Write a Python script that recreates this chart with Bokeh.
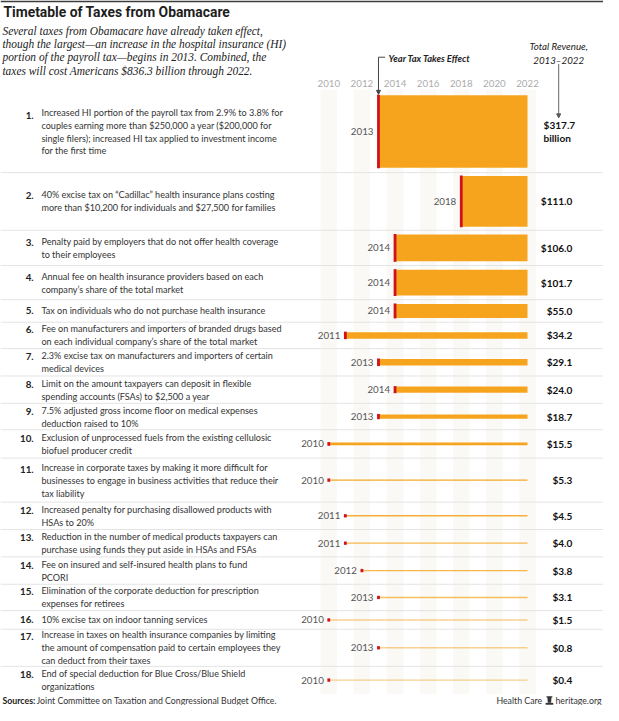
from bokeh.plotting import figure
from bokeh.models import Range1d, Arrow, NormalHead, ColumnDataSource
from bokeh.core.properties import value
from bokeh.embed import file_html
from bokeh.resources import INLINE

# ---------------- data ----------------
numbers = [f"{i}." for i in range(1, 19)]
descriptions = [
    "Increased HI portion of the payroll tax from 2.9% to 3.8% for\ncouples earning more than $250,000 a year ($200,000 for\nsingle filers); increased HI tax applied to investment income\nfor the first time",
    "40% excise tax on \u201cCadillac\u201d health insurance plans costing\nmore than $10,200 for individuals and $27,500 for families",
    "Penalty paid by employers that do not offer health coverage\nto their employees",
    "Annual fee on health insurance providers based on each\ncompany\u2019s share of the total market",
    "Tax on individuals who do not purchase health insurance",
    "Fee on manufacturers and importers of branded drugs based\non each individual company\u2019s share of the total market",
    "2.3% excise tax on manufacturers and importers of certain\nmedical devices",
    "Limit on the amount taxpayers can deposit in flexible\nspending accounts (FSAs) to $2,500 a year",
    "7.5% adjusted gross income floor on medical expenses\ndeduction raised to 10%",
    "Exclusion of unprocessed fuels from the existing cellulosic\nbiofuel producer credit",
    "Increase in corporate taxes by making it more difficult for\nbusinesses to engage in business activities that reduce their\ntax liability",
    "Increased penalty for purchasing disallowed products with\nHSAs to 20%",
    "Reduction in the number of medical products taxpayers can\npurchase using funds they put aside in HSAs and FSAs",
    "Fee on insured and self-insured health plans to fund\nPCORI",
    "Elimination of the corporate deduction for prescription\nexpenses for retirees",
    "10% excise tax on indoor tanning services",
    "Increase in taxes on health insurance companies by limiting\nthe amount of compensation paid to certain employees they\ncan deduct from their taxes",
    "End of special deduction for Blue Cross/Blue Shield\norganizations",
]
start_years = [2013, 2018, 2014, 2014, 2014, 2011, 2013, 2014, 2013,
               2010, 2010, 2011, 2011, 2012, 2013, 2010, 2013, 2010]
revenue = [317.7, 111.0, 106.0, 101.7, 55.0, 34.2, 29.1, 24.0, 18.7,
           15.5, 5.3, 4.5, 4.0, 3.8, 3.1, 1.5, 0.8, 0.4]
end_year = 2022
axis_years = [2010, 2012, 2014, 2016, 2018, 2020, 2022]

title = "Timetable of Taxes from Obamacare"
subtitle = ("Several taxes from Obamacare have already taken effect,\n"
            "though the largest\u2014an increase in the hospital insurance (HI)\n"
            "portion of the payroll tax\u2014begins in 2013. Combined, the\n"
            "taxes will cost Americans $836.3 billion through 2022.")

# ---------------- layout (reference pixel space) ----------------
W, H = 603, 705
REF_W, REF_H = 619, 721
FS = 0.976
def fs(px):
    return f"{px*FS:.2f}px"

row_edges = [92, 176, 235, 271, 306, 329, 356, 384, 412, 439, 468, 513,
             541, 569, 597, 624, 643, 681, 709]
LINE = 11.2
K = 2.34          # px of thickness per $bn per year
YEAR_X0 = 337     # px position of 2010
PX_YEAR = 17.0

BODY = "Lato"
ORANGE = "#F6A41E"
RED = "#D0121B"

centers = [(row_edges[i] + row_edges[i + 1]) / 2 for i in range(18)]
nlines = [d.count("\n") + 1 for d in descriptions]
num_y = [c - (n - 1) * LINE / 2 for c, n in zip(centers, nlines)]
raw_th = [v / (end_year + 1 - s) * K for v, s in zip(revenue, start_years)]
thick = [max(t, 1.4) for t in raw_th]
bar_alpha = [min(1.0, max(0.5, t)) for t in raw_th]
mark_h = [max(t + 1.0, 3.4) for t in thick]

src = ColumnDataSource(dict(
    num=numbers, desc=descriptions, c=centers, ny=num_y,
    start=start_years, end=[end_year] * 18, th=thick, mh=mark_h, al=bar_alpha,
    ylab=[str(s) for s in start_years],
))

p = figure(width=W, height=H, x_range=Range1d(0, REF_W), y_range=Range1d(REF_H, 0),
           output_backend="svg", toolbar_location=None, min_border=0,
           x_axis_location=None, y_axis_location=None, outline_line_color=None)
p.grid.visible = False
p.background_fill_color = "white"
p.border_fill_color = "white"
p.extra_x_ranges = {"yr": Range1d(2010 - YEAR_X0 / PX_YEAR, 2010 + (REF_W - YEAR_X0) / PX_YEAR)}

# top border
p.segment(x0=0, y0=0.8, x1=REF_W, y1=0.8, line_color="#3c3c3c", line_width=1.8)

# background year stripes
p.quad(left=[y - 0.5 for y in axis_years], right=[y + 0.5 for y in axis_years],
       top=row_edges[0] - 1, bottom=row_edges[-1], x_range_name="yr",
       fill_color="#faf9f6", line_color=None)

# row separators
inner = row_edges[1:-1]
p.segment(x0=[0] * len(inner), y0=inner, x1=[REF_W] * len(inner), y1=inner,
          line_color="#e4e4e4", line_width=1)

# header year labels
p.text(x=axis_years, y=[85] * len(axis_years), text=[str(y) for y in axis_years],
       x_range_name="yr", text_align="center", text_baseline="middle",
       text_font=value(BODY), text_font_size=fs(10), text_color="#ababab")

# bars
p.hbar(y="c", left="start", right="end", height="th", source=src, x_range_name="yr",
       fill_color=ORANGE, fill_alpha="al", line_color=None)
p.rect(x="start", y="c", width=0.17, height="mh", source=src, x_range_name="yr",
       fill_color=RED, line_color=None)

# year labels
p.text(x="start", y="c", text="ylab", source=src, x_range_name="yr", x_offset=-5,
       text_align="right", text_baseline="middle", text_font=value(BODY),
       text_font_size=fs(10), text_color="#555555")

# numbers and descriptions
p.text(x=34, y="ny", text="num", source=src, text_align="right", text_baseline="middle",
       text_font=value(BODY), text_font_style="bold", text_font_size=fs(10),
       text_color="#222222")
p.text(x=42, y="c", text="desc", source=src, text_align="left", text_baseline="middle",
       text_font=value(BODY), text_font_size=fs(9.3), text_line_height=1.18,
       text_color="#333333")

# revenue values
first = ColumnDataSource(dict(c=[centers[0]], val=[f"${revenue[0]:.1f}\nbillion"]))
rest = ColumnDataSource(dict(c=centers[1:], val=[f"${v:.1f}" for v in revenue[1:]]))
p.text(x=557.5, y="c", text="val", source=first, text_align="left", text_baseline="middle",
       text_font=value(BODY), text_font_style="bold", text_font_size=fs(10.3),
       text_line_height=1.1, text_color="#111111")
p.text(x=587, y="c", text="val", source=rest, text_align="right", text_baseline="middle",
       text_font=value(BODY), text_font_style="bold", text_font_size=fs(10.3),
       text_color="#111111")

# title and subtitle
p.text(x=3, y=12, text=[title], text_align="left", text_baseline="middle",
       text_font=value("Roboto"), text_font_style="bold", text_font_size=fs(14.2),
       text_color="#1e1e1e")
p.text(x=2, y=51.5, text=[subtitle], text_align="left", text_baseline="middle",
       text_font=value("Liberation Serif"), text_font_style="italic",
       text_font_size=fs(11.7), text_line_height=1.1, text_color="#222222")

# annotation: year tax takes effect
p.segment(x0=start_years[0], y0=58, x1=start_years[0] + 0.4, y1=58, x_range_name="yr",
          line_color="#444444", line_width=1)
p.add_layout(Arrow(end=NormalHead(size=4, fill_color="#444444", line_color="#444444"),
                   x_start=start_years[0], y_start=58, x_end=start_years[0], y_end=96,
                   x_range_name="yr", line_color="#444444", line_width=1))
p.text(x=start_years[0], y=59, text=["Year Tax Takes Effect"], x_range_name="yr",
       x_offset=10, text_align="left", text_baseline="middle", text_font=value(BODY),
       text_font_style="bold italic", text_font_size=fs(9.6), text_color="#222222")

# annotation: total revenue
p.text(x=573, y=54, text=["Total Revenue,\n2013\u20132022"], text_align="center",
       text_baseline="middle", text_font=value(BODY), text_font_style="italic",
       text_font_size=fs(10), text_line_height=1.15, text_color="#222222")
p.add_layout(Arrow(end=NormalHead(size=4, fill_color="#555555", line_color="#555555"),
                   x_start=573, y_start=65, x_end=573, y_end=120,
                   line_color="#666666", line_width=1))

# footer
p.text(x=2, y=716, text=["Sources:"], text_align="left", text_baseline="middle",
       text_font=value(BODY), text_font_style="bold", text_font_size=fs(9.0),
       text_color="#222222")
p.text(x=37, y=716, text=["Joint Committee on Taxation and Congressional Budget Office."],
       text_align="left", text_baseline="middle", text_font=value(BODY),
       text_font_size=fs(9.0), text_color="#333333")
p.text(x=617, y=716, text=["heritage.org"], text_align="right", text_baseline="middle",
       text_font=value(BODY), text_font_size=fs(9.0), text_color="#333333")
p.text(x=556, y=716, text=["Health Care"], text_align="right", text_baseline="middle",
       text_font=value(BODY), text_font_size=fs(9.0), text_color="#333333")
# small liberty-bell icon
p.patch(x=[560.5, 566.5, 566.5, 565.6, 565.2, 561.8, 561.4, 560.5, 560.5],
        y=[711.5, 711.5, 712.8, 712.8, 718.3, 718.3, 712.8, 712.8, 711.5],
        fill_color="#333333", line_color=None)
p.quad(left=559.6, right=567.4, top=718.3, bottom=720.2, fill_color="#333333", line_color=None)

open("out.html", "w").write(file_html(p, INLINE))
